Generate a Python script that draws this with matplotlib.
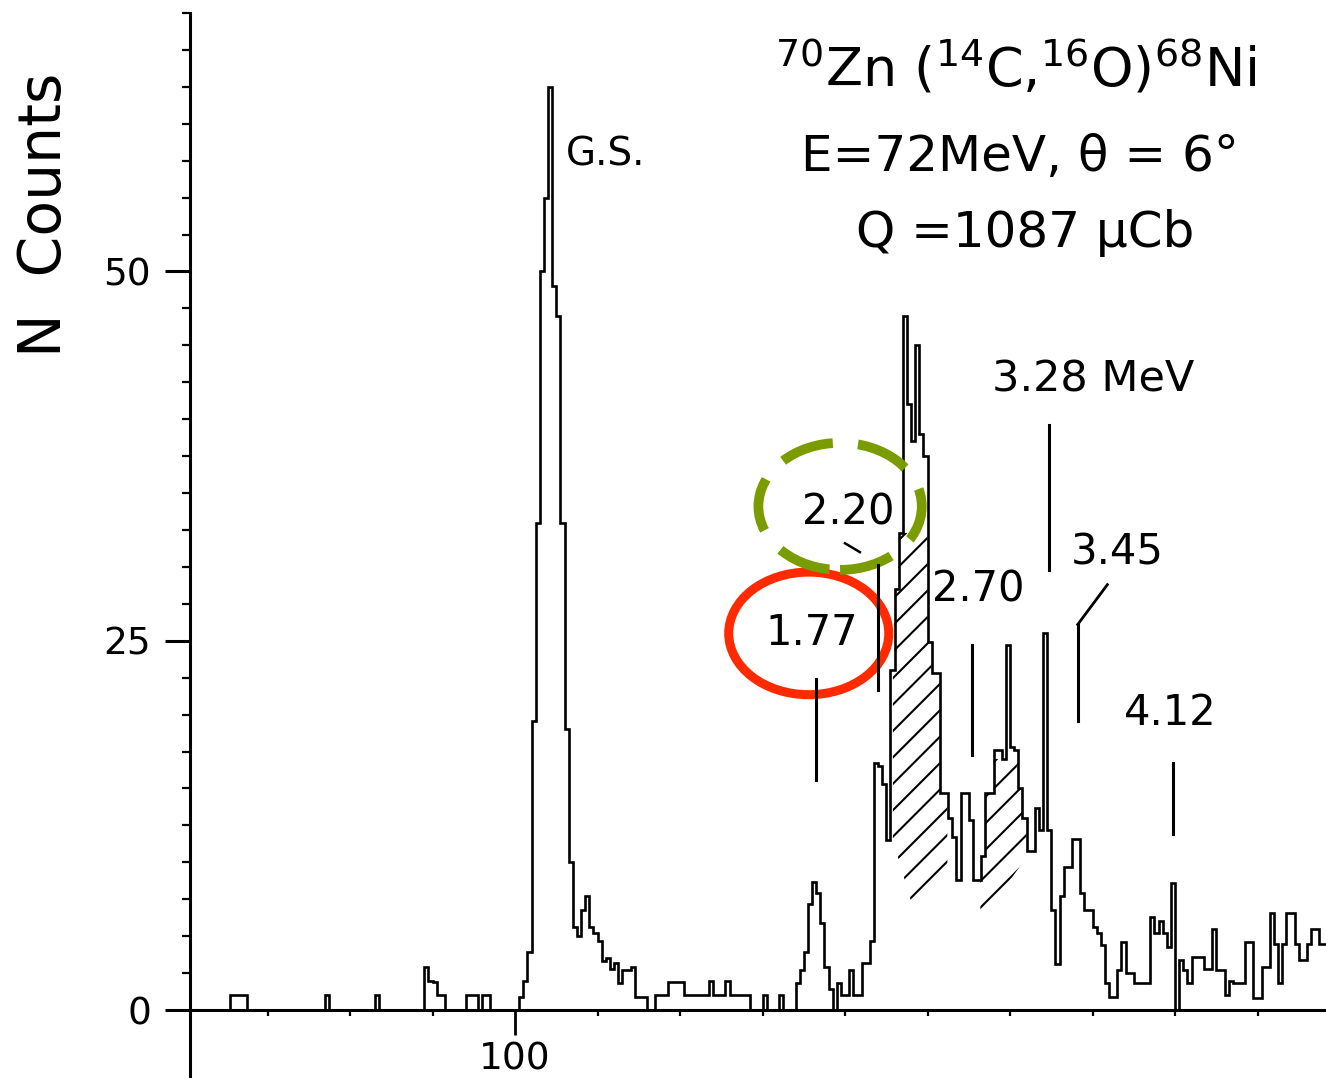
import numpy as np
import matplotlib
matplotlib.use("Agg")
import matplotlib.pyplot as plt
from matplotlib.patches import Ellipse

# 70Zn(14C,16O)68Ni spectrum, counts per half-channel bin starting at channel 60.5
bin_width = 0.5
first_edge = 60.5

# channels 60.5 - 100.5
counts_low = [0, 0, 0, 0, 0, 0, 0, 0, 0, 0,
              1.0, 1.0, 1.0, 1.0,
              0, 0, 0, 0, 0, 0, 0, 0, 0, 0, 0, 0, 0, 0, 0, 0, 0, 0, 0,
              1.0,
              0, 0, 0, 0, 0, 0, 0, 0, 0, 0, 0,
              1.0,
              0, 0, 0, 0, 0, 0, 0, 0, 0, 0, 0,
              2.9, 2.0, 1.9, 1.0, 1.0,
              0, 0, 0, 0, 0,
              1.0, 1.0, 1.0, 0, 1.0, 1.0,
              0, 0, 0, 0, 0, 0, 0]
# channels 100.5 - 130.5 (ground state)
counts_gs = [0.9, 2.0, 3.9, 19.6, 33.0, 50.0, 55.0, 62.5, 49.0, 47.0,
             33.0, 19.0, 10.0, 5.6, 5.0, 6.8, 7.7, 5.6, 5.2, 4.7,
             3.3, 3.5, 2.8, 3.2, 1.8, 2.7, 2.7, 2.9, 0.9, 0.9,
             0.9, 0, 0, 1.0, 1.0, 1.0, 1.9, 1.9, 1.9, 1.9,
             1.0, 1.0, 1.0, 1.0, 1.0, 1.0, 2.0, 1.0, 1.0, 1.0,
             2.0, 1.0, 1.0, 1.0, 1.0, 1.0, 0, 0, 0, 1.0]
# channels 130.5 - 160.5 (1.77 - 2.70 MeV states)
counts_mid = [0, 0, 0, 1.0, 0, 0, 0, 1.8, 2.7, 3.9,
              7.2, 8.7, 7.9, 5.9, 2.9, 1.4, 0, 1.8, 1.0, 1.0,
              2.7, 1.0, 1.0, 3.2, 3.2, 4.7, 16.7, 16.5, 15.3, 11.5,
              23.0, 28.5, 32.3, 47.0, 41.0, 38.5, 45.0, 39.0, 37.5, 24.9,
              22.8, 22.8, 14.7, 14.7, 13.0, 11.7, 8.8, 14.7, 14.7, 12.9,
              8.8, 8.8, 10.4, 14.7, 14.7, 17.6, 17.6, 17.0, 24.7, 17.8]
# channels 160.5 - 198.5 (3.28 MeV and above)
counts_high = [17.6, 15.0, 13.0, 10.8, 10.8, 13.7, 12.2, 25.5, 12.2, 6.8,
               3.1, 7.7, 9.7, 9.7, 11.6, 11.6, 7.9, 6.8, 6.8, 5.6,
               5.2, 4.4, 1.8, 0.9, 0.9, 2.7, 4.6, 2.5, 2.5, 1.8,
               1.8, 1.8, 1.8, 6.3, 5.2, 6.0, 5.2, 4.3, 8.6, 0,
               3.4, 2.7, 1.8, 3.6, 3.6, 3.6, 2.8, 2.8, 5.5, 2.7,
               2.7, 1.0, 2.0, 1.8, 1.8, 1.8, 4.6, 4.6, 0.8, 0.8,
               2.9, 2.9, 6.6, 4.5, 1.8, 4.5, 6.6, 6.6, 4.5, 3.4,
               3.4, 4.5, 5.5, 5.5, 4.5, 4.5]

# level markers: label, marker channel, marker low/high, label position
level_labels = ["1.77", "2.20", "2.70", "3.28 MeV", "3.45", "4.12"]
level_ch = [136.5, 144.0, 155.4, 164.7, 168.2, 179.8]
level_lo = [15.6, 21.7, 17.3, 29.8, 19.6, 11.9]
level_hi = [22.4, 30.1, 24.7, 39.6, 26.1, 16.7]
label_ch = [135.9, 140.4, 156.1, 170.1, 173.0, 179.4]
label_n = [25.5, 33.7, 28.5, 42.7, 31.0, 20.1]

# shaded (hatched) contributions: base line points and upper cap
shade_a_ch = [145.8, 148.2, 152.4]
shade_a_base = [11.5, 7.0, 9.5]
shade_a_cap = 32.3
shade_b_ch = [156.4, 162.2]
shade_b_base = [6.0, 10.5]
shade_b_cap = 17.0

counts = np.array(counts_low + counts_gs + counts_mid + counts_high)
edges = first_edge + bin_width * np.arange(len(counts) + 1)

fig = plt.figure(figsize=(13.26, 10.78), dpi=100)
ax = fig.add_axes([190 / 1326, 0, 1136 / 1326, 1065 / 1078])

ax.stairs(counts, edges, color="black", lw=1.9)


def shade(ch_pts, base_pts, cap):
    xs = np.linspace(ch_pts[0], ch_pts[-1], 800)
    idx = np.clip(((xs - first_edge) / bin_width).astype(int), 0, len(counts) - 1)
    top = np.minimum(counts[idx], cap)
    base = np.interp(xs, ch_pts, base_pts)
    poly = ax.fill_between(xs, base, top, facecolor="none", edgecolor="none")
    clip = poly.get_paths()[0]
    # 45 degree lines in screen space
    slope = 8.25 / 14.76
    for c0 in np.arange(80, 170, 3.2):
        ln, = ax.plot([c0, c0 + 80], [0, 80 * slope], color="black", lw=1.5)
        ln.set_clip_path(clip, ax.transData)


shade(shade_a_ch, shade_a_base, shade_a_cap)
shade(shade_b_ch, shade_b_base, shade_b_cap)

for lab, c, lo, hi, tc, tn in zip(level_labels, level_ch, level_lo, level_hi, label_ch, label_n):
    ax.plot([c, c], [lo, hi], color="black", lw=2.2)
    size = 31 if "MeV" in lab else 30
    ax.text(tc, tn, lab, fontsize=size, ha="center", va="center")

# leader strokes for 2.20 and 3.45
ax.plot([140.0, 141.8], [31.6, 31.0], color="black", lw=1.8)
ax.plot([168.2, 171.8], [26.1, 28.8], color="black", lw=2.0)

ax.text(111.0, 57.9, "G.S.", fontsize=28, ha="center", va="center")

ax.add_patch(Ellipse((135.6, 25.5), 19.4, 8.3, fill=False, ec="#ff2a00", lw=6.5))
ax.add_patch(Ellipse((139.4, 34.1), 19.8, 8.6, fill=False, ec="#7a9c00", lw=7,
                     linestyle=(0, (5.5, 2.6))))

ax.set_xlim(60.6, 198.3)
ax.set_ylim(-4.6, 67.5)

for s in ["top", "right"]:
    ax.spines[s].set_visible(False)
ax.spines["left"].set_linewidth(2.2)
ax.spines["bottom"].set_position(("data", 0))
ax.spines["bottom"].set_linewidth(2.2)

ax.set_yticks([0, 25, 50])
ax.set_yticks(np.arange(0, 67.6, 2.5), minor=True)
ax.set_xticks([100])
ax.set_xticks(np.arange(70, 200, 10), minor=True)
ax.tick_params(axis="y", which="major", length=18, width=2.2, labelsize=27, pad=10)
ax.tick_params(axis="y", which="minor", length=6, width=1.6)
ax.tick_params(axis="x", which="major", length=18, width=2.0, labelsize=27, pad=5)
ax.tick_params(axis="x", which="minor", length=4, width=1.6)

fig.text(45 / 1326, 1 - 215 / 1078, "N  Counts", rotation=90, fontsize=42,
         ha="center", va="center")

fig.text(1016 / 1326, 1 - 68 / 1078, r"$^{70}$Zn ($^{14}$C,$^{16}$O)$^{68}$Ni",
         fontsize=39, ha="center", va="center")
fig.text(1020 / 1326, 1 - 157 / 1078, "E=72MeV, θ = 6°", fontsize=36,
         ha="center", va="center")
fig.text(1025 / 1326, 1 - 233 / 1078, "Q =1087 μCb", fontsize=36,
         ha="center", va="center")

fig.savefig("out.png", dpi=100)
